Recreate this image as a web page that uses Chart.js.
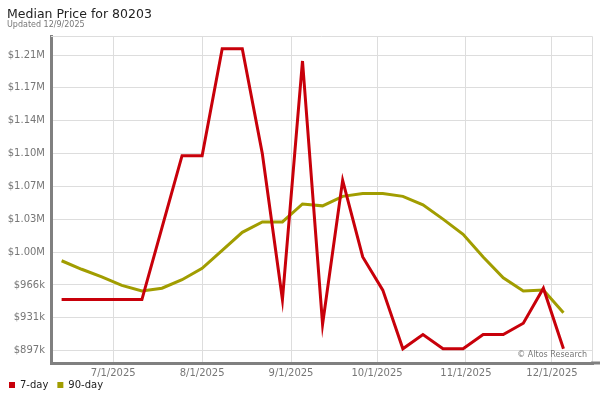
<!DOCTYPE html>
<html>
<head>
<meta charset="utf-8">
<script src="https://cdn.jsdelivr.net/npm/chart.js@4/dist/chart.umd.min.js"></script>
<style>
  body { margin: 0; background: #fff; }
  #wrap { width: 600px; height: 400px; position: relative; }
</style>
</head>
<body>
<div id="wrap"><canvas id="median_price_canvas"></canvas></div>
<script>
// Weekly sample dates (Fridays)
var weekDates = [
  "2025-06-13", "2025-06-20", "2025-06-27", "2025-07-04", "2025-07-11", "2025-07-18", "2025-07-25",
  "2025-08-01", "2025-08-08", "2025-08-15", "2025-08-22", "2025-08-29", "2025-09-05", "2025-09-12",
  "2025-09-19", "2025-09-26", "2025-10-03", "2025-10-10", "2025-10-17", "2025-10-24", "2025-10-31",
  "2025-11-07", "2025-11-14", "2025-11-21", "2025-11-28", "2025-12-05"
];

// Median price, in dollars
var sevenDay = [
  951000, 951000, 951000, 951000, 951000, 1027000, 1103000,
  1103000, 1216000, 1216000, 1105000, 951000, 1203000, 925000,
  1077000, 996000, 961000, 899000, 914000, 899000, 899000,
  914000, 914000, 926000, 963000, 899000
];
var ninetyDay = [
  992000, 983000, 975000, 966000, 960000, 963000, 972000,
  984000, 1003000, 1022000, 1033000, 1033000, 1052000, 1050000,
  1060000, 1063000, 1063000, 1060000, 1051000, 1036000, 1020000,
  996000, 974000, 960000, 961000, 937000
];

var seriesNames = ["7-day", "90-day"];

// axis ticks
var monthTickDates = ["2025-07-01", "2025-08-01", "2025-09-01", "2025-10-01", "2025-11-01", "2025-12-01"];
var monthTickLabels = ["7/1/2025", "8/1/2025", "9/1/2025", "10/1/2025", "11/1/2025", "12/1/2025"];
var priceTicks = [897000, 931700, 966400, 1001100, 1035800, 1070500, 1105200, 1139900, 1174600, 1209300];
var priceTickLabels = ["$897k", "$931k", "$966k", "$1.00M", "$1.03M", "$1.07M", "$1.10M", "$1.14M", "$1.17M", "$1.21M"];

var titleText = "Median Price for 80203";
var subtitleText = "Updated 12/9/2025";
var creditText = "\u00a9 Altos Research";

var FONT = '"DejaVu Sans", Verdana, sans-serif';
var RED = "#c8000a";
var OLIVE = "#a19d00";

// days since 7/1/2025
var origin = Date.UTC(2025, 6, 1);
function dayOf(s) {
  return (new Date(s + "T00:00:00Z").getTime() - origin) / 86400000;
}

function toPoints(values) {
  return values.map(function (v, i) { return { x: dayOf(weekDates[i]), y: v }; });
}

// title, frame and credit line
var framePlugin = {
  id: "frame",
  afterLayout: function (chart) {
    // tuck the legend up under the date labels
    if (chart.legend) {
      chart.legend.top -= 8;
      chart.legend.bottom -= 8;
    }
  },
  afterDraw: function (chart) {
    var ctx = chart.ctx;
    var a = chart.chartArea;
    ctx.save();
    // light frame top/right
    ctx.strokeStyle = "#dddddd";
    ctx.lineWidth = 1;
    ctx.beginPath();
    ctx.moveTo(a.left, a.top + 0.5);
    ctx.lineTo(a.right - 0.5, a.top + 0.5);
    ctx.lineTo(a.right - 0.5, a.bottom);
    ctx.stroke();
    // bottom axis runs on to the edge
    ctx.strokeStyle = "#808080";
    ctx.lineWidth = 3;
    ctx.beginPath();
    ctx.moveTo(a.right - 2, a.bottom);
    ctx.lineTo(chart.width, a.bottom);
    ctx.stroke();

    ctx.textBaseline = "alphabetic";
    ctx.textAlign = "left";
    ctx.fillStyle = "#222";
    ctx.font = "12.5px " + FONT;
    ctx.fillText(titleText, 7, 18);
    ctx.fillStyle = "#777";
    ctx.font = "8px " + FONT;
    ctx.fillText(subtitleText, 7, 27);

    ctx.textAlign = "right";
    ctx.fillStyle = "#777";
    ctx.font = "8px " + FONT;
    ctx.fillText(creditText, a.right - 6, a.bottom - 6);
    ctx.restore();
  }
};

var ctx = document.getElementById("median_price_canvas").getContext("2d");

var chart = new Chart(ctx, {
  type: "line",
  data: {
    datasets: [
      {
        label: seriesNames[0],
        data: toPoints(sevenDay),
        borderColor: RED,
        backgroundColor: RED,
        borderWidth: 3,
        pointRadius: 0,
        tension: 0
      },
      {
        label: seriesNames[1],
        data: toPoints(ninetyDay),
        borderColor: OLIVE,
        backgroundColor: OLIVE,
        borderWidth: 3,
        pointRadius: 0,
        tension: 0
      }
    ]
  },
  options: {
    responsive: true,
    maintainAspectRatio: false,
    animation: false,
    layout: { padding: { top: 36, left: 0, right: 7, bottom: -8 } },
    plugins: {
      title: { display: false },
      tooltip: { enabled: false },
      legend: {
        position: "bottom",
        align: "start",
        labels: {
          boxWidth: 6,
          boxHeight: 6,
          padding: 9,
          color: "#222",
          font: { size: 10, family: FONT },
          generateLabels: function (c) {
            return Chart.defaults.plugins.legend.labels.generateLabels(c).map(function (l) {
              l.lineWidth = 0;
              return l;
            });
          }
        }
      }
    },
    scales: {
      x: {
        type: "linear",
        min: -21.7,
        max: 167.3,
        afterBuildTicks: function (s) {
          s.ticks = monthTickDates.map(function (d) { return { value: dayOf(d) }; });
        },
        afterFit: function (s) { s.height = 16; },
        ticks: {
          autoSkip: false,
          maxRotation: 0,
          padding: 4,
          color: "#777",
          font: { size: 10, family: FONT },
          callback: function (v, i) { return monthTickLabels[i]; }
        },
        grid: { color: "#dddddd", drawTicks: false },
        border: { color: "#808080", width: 3 }
      },
      y: {
        min: 884000,
        max: 1229400,
        afterBuildTicks: function (s) {
          s.ticks = priceTicks.map(function (v) { return { value: v }; });
        },
        afterFit: function (s) { s.width = 51; },
        ticks: {
          padding: 6,
          color: "#777",
          font: { size: 10, family: FONT },
          callback: function (v, i) { return priceTickLabels[i]; }
        },
        grid: { color: "#dddddd", drawTicks: false },
        border: { color: "#808080", width: 3 }
      }
    }
  },
  plugins: [framePlugin]
});
</script>
</body>
</html>
